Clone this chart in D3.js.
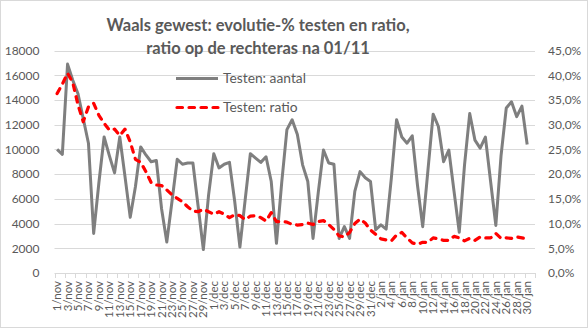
<!DOCTYPE html>
<html><head><meta charset="utf-8">
<script src="https://cdn.jsdelivr.net/npm/d3@7"></script>
<style>body{margin:0;background:#fff}text{font-family:Lato,sans-serif}</style>
</head><body><svg id="c" width="588" height="328"></svg>
<script>
const categories = [
"1/nov","2/nov","3/nov","4/nov","5/nov","6/nov","7/nov","8/nov","9/nov","10/nov",
"11/nov","12/nov","13/nov","14/nov","15/nov","16/nov","17/nov","18/nov","19/nov","20/nov",
"21/nov","22/nov","23/nov","24/nov","25/nov","26/nov","27/nov","28/nov","29/nov","30/nov",
"1/dec","2/dec","3/dec","4/dec","5/dec","6/dec","7/dec","8/dec","9/dec","10/dec",
"11/dec","12/dec","13/dec","14/dec","15/dec","16/dec","17/dec","18/dec","19/dec","20/dec",
"21/dec","22/dec","23/dec","24/dec","25/dec","26/dec","27/dec","28/dec","29/dec","30/dec","31/dec",
"1/jan","2/jan","3/jan","4/jan","5/jan","6/jan","7/jan","8/jan","9/jan","10/jan",
"11/jan","12/jan","13/jan","14/jan","15/jan","16/jan","17/jan","18/jan","19/jan","20/jan",
"21/jan","22/jan","23/jan","24/jan","25/jan","26/jan","27/jan","28/jan","29/jan","30/jan","31/jan"];
const testenAantal = [10000,9600,16900,15600,14500,12500,10500,3200,7300,11000,
 9500,8100,11000,7800,4500,7000,10200,9550,9000,9100,
 5200,2500,5800,9200,8800,8900,8900,5400,1900,6300,
 9650,8500,8800,8950,5800,2100,5900,9650,9300,8950,
 9400,7400,2400,7300,11600,12400,11200,8750,7400,2800,
 6500,9950,8900,8800,2800,3750,2800,6600,8200,7700,
 7400,3500,3900,3550,7700,12400,11000,10500,11100,7100,
 3750,8300,12850,11850,9000,9950,6600,3300,8700,12900,
 10750,10100,11000,7400,3850,9500,13350,13850,12650,13500,
 10400];
const testenRatio = [36.3,38.2,40.4,38.5,34.0,30.6,33.6,34.3,31.9,30.3,
 28.9,29.1,27.8,29.1,26.5,23.0,22.4,20.5,18.3,17.8,
 17.7,16.8,15.8,15.1,14.4,13.4,12.5,12.4,12.9,12.4,
 11.9,12.4,11.9,11.2,11.8,11.6,10.8,11.5,11.6,11.2,
 10.5,12.2,10.4,10.4,10.3,9.8,9.7,9.8,10.1,9.8,
 10.4,10.6,9.8,8.8,7.5,7.3,8.2,10.0,10.9,10.1,
 8.7,7.8,6.9,6.7,6.5,7.7,8.2,7.1,6.1,5.8,
 6.2,6.2,7.1,6.9,6.6,6.6,7.4,7.1,6.5,7.0,
 6.6,7.3,7.1,7.1,8.0,7.0,7.1,7.0,7.3,7.1,
 6.9];
const leftTicks = [0,2000,4000,6000,8000,10000,12000,14000,16000,18000];
const rightTicks = [0,5,10,15,20,25,30,35,40,45];
const titleLines = ["Waals gewest: evolutie-% testen en ratio,","ratio op de rechteras na 01/11"];
const seriesNames = ["Testen: aantal","Testen: ratio"];

const svg = d3.select("#c");
const W=588,H=328, L=54.5, R=535, T=50.5, B=273;
const txt="#595959", grid="#d9d9d9";
svg.append("rect").attr("x",0.5).attr("y",0.5).attr("width",W-1).attr("height",H-1)
  .attr("fill","#fff").attr("stroke",grid);

const x = d3.scaleBand().domain(categories).range([L,R]).padding(0);
const cx = c => x(c)+x.bandwidth()/2;
const yL = d3.scaleLinear().domain([0,18000]).range([B,T]);
const yR = d3.scaleLinear().domain([0,45]).range([B,T]);

// gridlines
svg.append("g").selectAll("line").data(leftTicks.filter(d=>d>0)).join("line")
  .attr("x1",L).attr("x2",R).attr("y1",d=>Math.round(yL(d))+0.5).attr("y2",d=>Math.round(yL(d))+0.5)
  .attr("stroke",grid).attr("stroke-width",1);

// left axis
const gl = svg.append("g").attr("transform",`translate(${L},0)`)
  .call(d3.axisLeft(yL).tickValues(leftTicks).tickFormat(d3.format("d")).tickSize(0).tickPadding(15));
gl.select(".domain").remove();
gl.selectAll("text").attr("fill",txt).style("font-size","12px").style("font-family","Lato");

// right axis
const loc = d3.formatLocale({decimal:",",thousands:".",grouping:[3],currency:["€",""]});
const gr = svg.append("g").attr("transform",`translate(${R},0)`)
  .call(d3.axisRight(yR).tickValues(rightTicks).tickFormat(d=>loc.format(".1f")(d)+"%").tickSize(0).tickPadding(13));
gr.select(".domain").remove();
gr.selectAll("text").attr("fill",txt).style("font-size","12px").style("font-family","Lato");

// bottom axis
const labelCats = categories.filter((c,i)=>i%2===0);
const gb = svg.append("g").attr("transform",`translate(0,${B})`)
  .call(d3.axisBottom(x).tickValues(labelCats).tickSize(0).tickPadding(0));
gb.select(".domain").remove();
gb.selectAll("text").attr("fill",txt).style("font-size","11.5px").style("font-family","Lato")
  .attr("text-anchor","end").attr("dy","0.35em").attr("transform","translate(0,8) rotate(-90)").attr("x",0).attr("y",0);
svg.append("line").attr("x1",L).attr("x2",R).attr("y1",B+0.5).attr("y2",B+0.5).attr("stroke",grid);
const tickPos = labelCats.map(c=>x(c)).concat([R]);
svg.append("g").selectAll("line").data(tickPos).join("line")
  .attr("x1",d=>Math.round(d)+0.5).attr("x2",d=>Math.round(d)+0.5).attr("y1",B).attr("y2",B+5).attr("stroke",grid);

// lines
const data = categories.slice(0,testenAantal.length);
svg.append("path").datum(testenAantal)
  .attr("d",d3.line().x((d,i)=>cx(data[i])).y(d=>yL(d)))
  .attr("fill","none").attr("stroke","#7f7f7f").attr("stroke-width",3).attr("stroke-linejoin","round");
svg.append("path").datum(testenRatio)
  .attr("d",d3.line().x((d,i)=>cx(data[i])).y(d=>yR(d)))
  .attr("fill","none").attr("stroke","#ff0000").attr("stroke-width",3.2).attr("stroke-linejoin","round")
  .attr("stroke-linecap","round").attr("stroke-dasharray","5.5,6.5");

// title
svg.append("g").selectAll("text").data(titleLines).join("text")
  .attr("x",258).attr("y",(d,i)=>31+i*23).attr("text-anchor","middle")
  .attr("fill",txt).style("font-weight","bold").style("font-size","16.5px").text(d=>d);

// legend
const lg = svg.append("g");
const ly = [78.5,107.5];
lg.append("line").attr("x1",176).attr("x2",218).attr("y1",ly[0]).attr("y2",ly[0]).attr("stroke","#7f7f7f").attr("stroke-width",3);
lg.append("line").attr("x1",177).attr("x2",218).attr("y1",ly[1]).attr("y2",ly[1]).attr("stroke","#ff0000").attr("stroke-width",3.2)
  .attr("stroke-linecap","round").attr("stroke-dasharray","5.5,6.5");
lg.selectAll("text").data(seriesNames).join("text").attr("x",223).attr("y",(d,i)=>ly[i]).attr("dy","0.35em")
  .attr("fill",txt).style("font-size","13.8px").text(d=>d);
</script></body></html>
